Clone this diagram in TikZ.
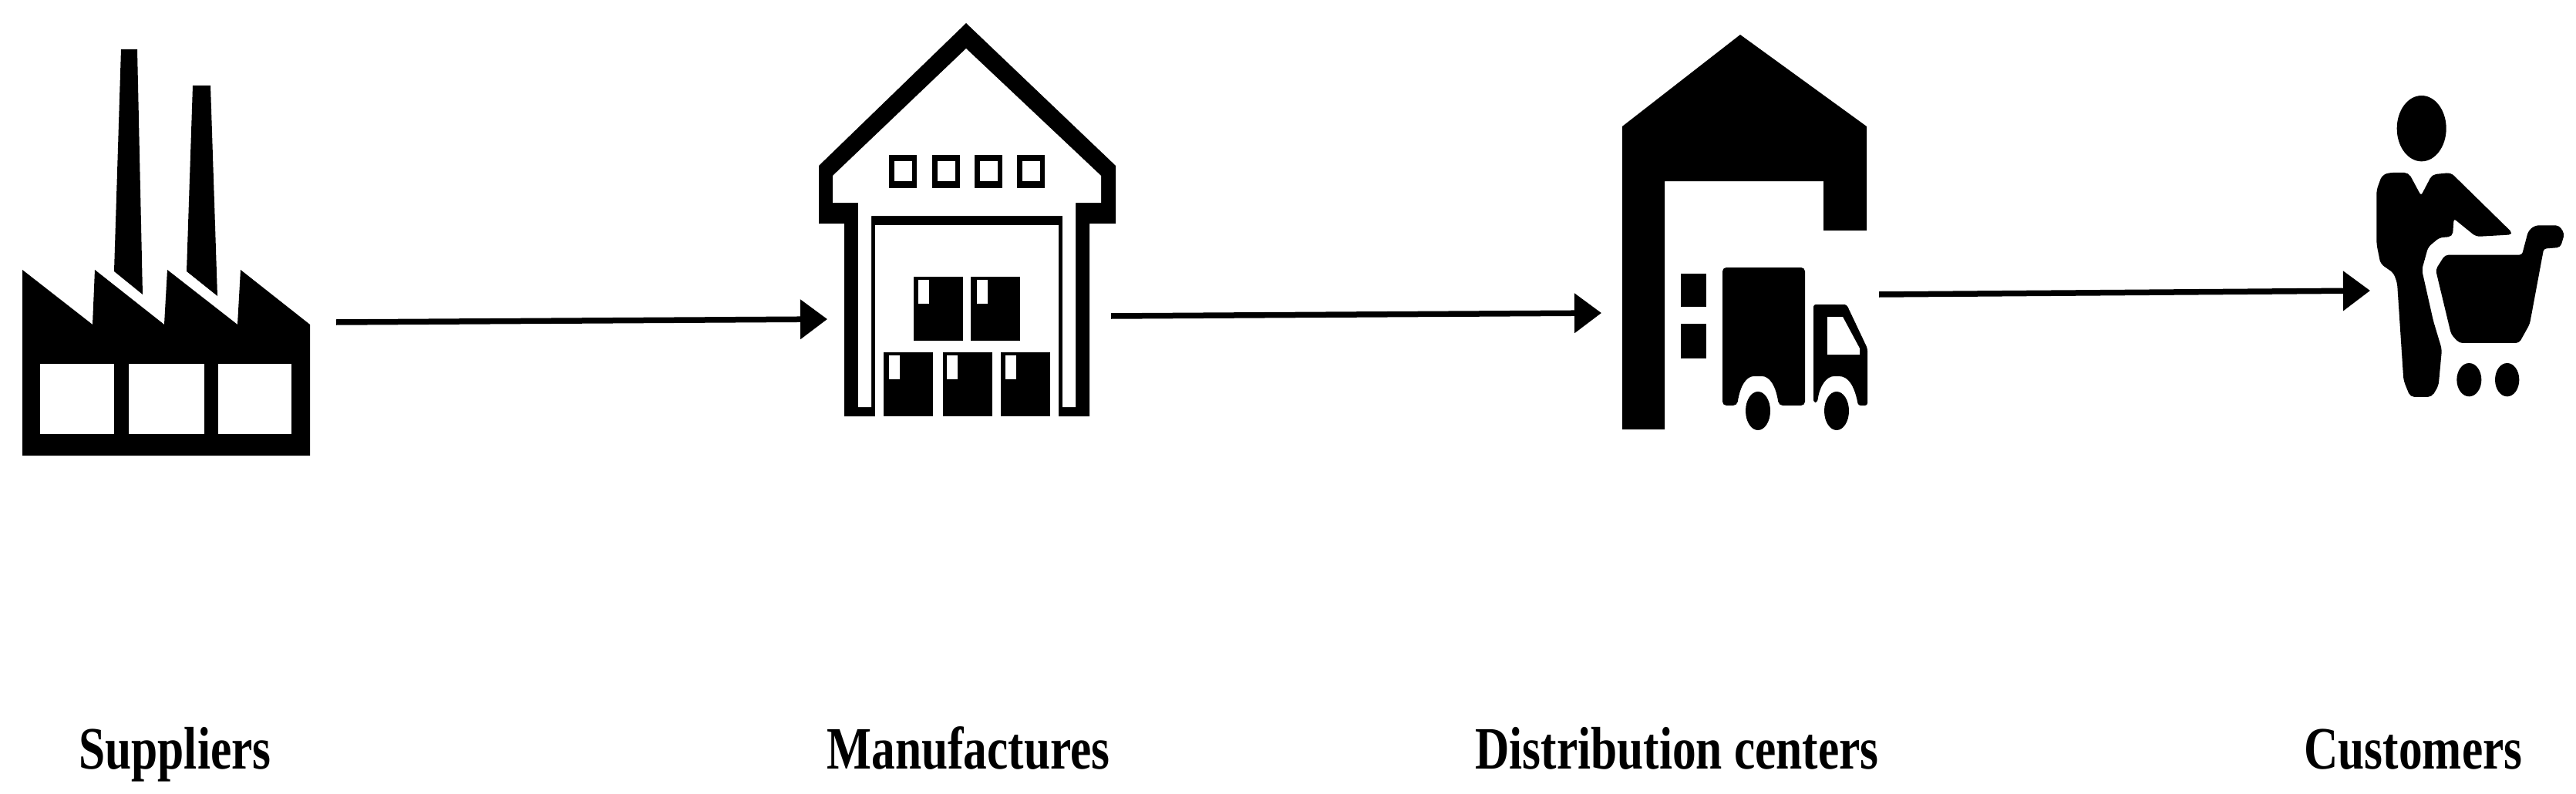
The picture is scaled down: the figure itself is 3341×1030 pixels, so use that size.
\documentclass[tikz,border=0pt]{standalone}
\usepackage{fontspec}
\setmainfont{Liberation Serif}
\usetikzlibrary{arrows.meta}
\tikzset{
  ink/.style={fill=black,draw=none},
  heavyink/.style={fill=black,draw=black,line width=2pt},
  hole/.style={fill=white,draw=none},
  flow/.style={line width=7.5pt,draw=black,-{Triangle[length=35pt,width=50pt]},shorten >=0pt},
  caption/.style={anchor=base,inner sep=0pt,font=\bfseries\fontsize{78pt}{80pt}\selectfont,xscale=0.787,transform shape}
}
\begin{document}
\begin{tikzpicture}[x=1pt,y=-1pt]
\useasboundingbox (0,0) rectangle (3341,1030);
\fill[white] (0,0) rectangle (3341,1030);

% Factory
\fill[ink] (157,64) -- (178,64) -- (185,382) -- (148,352) -- cycle;
\fill[ink] (250,111) -- (273,111) -- (282,384) -- (242,352) -- cycle;
\fill[ink] (29,350) -- (120,421) -- (123,350) -- (213,421) -- (217,350) -- (308,421) -- (312,350) -- (402,421) -- (402,591) -- (29,591) -- cycle;
\fill[hole] (52,472) rectangle (148,563);
\fill[hole] (167,472) rectangle (265,563);
\fill[hole] (283,472) rectangle (378,563);

% Manufacturer warehouse
\fill[ink] (1253,30) -- (1447,215) -- (1447,290) -- (1413,290) -- (1413,540) -- (1095,540) -- (1095,290) -- (1062,290) -- (1062,215) -- cycle;
\fill[hole] (1253,63) -- (1428,228) -- (1428,263) -- (1395,263) -- (1395,528) -- (1378,528) -- (1378,280) -- (1130,280) -- (1130,528) -- (1113,528) -- (1113,263) -- (1080,263) -- (1080,228) -- cycle;
\fill[hole] (1135,292) rectangle (1373,548);
\foreach \wx in {1153,1209,1264,1319}{
  \fill[ink] (\wx,201) rectangle ++(36,43);
  \fill[hole] (\wx+7,209) rectangle ++(23,26);
}
\foreach \bx/\by/\lx in {1185/359/1191,1259/359/1267,1146/457/1153,1223/457/1228,1298/457/1304}{
  \fill[ink] (\bx,\by) rectangle ++(64,83);
  \fill[hole] (\lx,\by+4) rectangle ++(14,31);
}

% Distribution centre
\fill[ink] (2257,45) -- (2421,164) -- (2421,299) -- (2365,299) -- (2365,235) -- (2159,235) -- (2159,557) -- (2104,557) -- (2104,164) -- cycle;
\fill[ink] (2180,355) rectangle (2213,398);
\fill[ink] (2180,420) rectangle (2213,465);
\fill[ink,rounded corners=5pt] (2234,347) -- (2341,347) -- (2341,526) -- (2307,526)
  .. controls (2303,500) and (2295,488) .. (2280,488)
  .. controls (2265,488) and (2257,500) .. (2253,526) -- (2234,526) -- cycle;
\fill[ink] (2280,533) ellipse (16 and 25);
\fill[ink,rounded corners=3pt] (2352,395) -- (2395,395) -- (2422,452) -- (2422,526) -- (2410,526)
  .. controls (2405,500) and (2397,488) .. (2382,488)
  .. controls (2369,488) and (2360,500) .. (2357,522) -- (2352,522) -- cycle;
\fill[hole] (2370,411) -- (2390,411) -- (2412,452) -- (2412,460) -- (2370,460) -- cycle;
\fill[ink] (2382,533) ellipse (16 and 25);

% Customer
\begin{scope}[shift={(3040,100)},scale=1/3]
\fill[ink] (302,200) ellipse (96 and 128);
\path[heavyink,rounded corners=5pt] (130,440) -- (150,385) -- (175,375) -- (250,375) -- (300,468) -- (345,382) -- (415,375) -- (655,610) -- (515,618) -- (425,545) -- (420,618)
  -- (370,622) -- (325,660) -- (300,750) -- (345,950) -- (378,1060) -- (365,1200) -- (340,1242) -- (260,1242) -- (235,1180) -- (210,800) -- (195,760) -- (145,725) -- (130,650) -- cycle;
\path[heavyink,rounded corners=4pt] (360,750) -- (395,695) -- (695,695) -- (720,600) -- (745,580) -- (835,580) -- (855,610) -- (840,660) -- (775,665) -- (720,960) -- (680,1032) -- (450,1032) -- (420,1000) -- cycle;
\fill[ink] (487,1178) ellipse (48 and 65);
\fill[ink] (635,1178) ellipse (47 and 65);
\end{scope}

% Connectors
\coordinate (suppliersOut) at (436,418);
\coordinate (manufacturesIn) at (1073,414);
\coordinate (manufacturesOut) at (1441,410);
\coordinate (distributionIn) at (2077,406);
\coordinate (distributionOut) at (2437,382);
\coordinate (customersIn) at (3074,377);
\draw[flow] (suppliersOut) -- (manufacturesIn);
\draw[flow] (manufacturesOut) -- (distributionIn);
\draw[flow] (distributionOut) -- (customersIn);

% Labels
\node[caption] (suppliers) at (227,997) {Suppliers};
\node[caption] (manufactures) at (1256,997) {Manufactures};
\node[caption] (distribution) at (2175,997) {Distribution centers};
\node[caption] (customers) at (3130,997) {Customers};
\end{tikzpicture}
\end{document}
